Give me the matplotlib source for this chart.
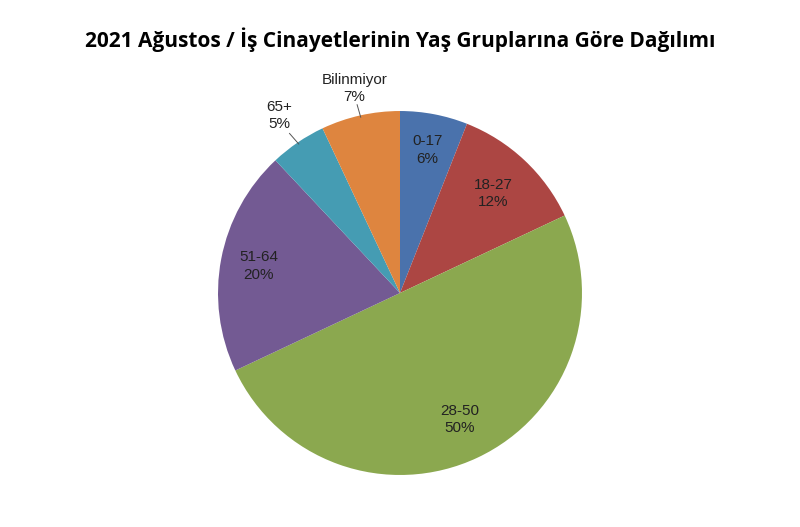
import matplotlib
matplotlib.use("Agg")
import matplotlib.pyplot as plt
import numpy as np

categories = ["0-17", "18-27", "28-50", "51-64", "65+", "Bilinmiyor"]
values = [6, 12, 50, 20, 5, 7]
colors = ["#4A72AC", "#AC4643", "#8BA84F", "#735A93", "#459CB3", "#DE853F"]
label_r = [0.80, 0.75, 0.77, 0.79, 1.18, 1.15]

fig = plt.figure(figsize=(8, 5.27), dpi=100)
ax = fig.add_axes([200/800, 34/527, 400/800, 400/527])
wedges, _ = ax.pie(values, colors=colors, startangle=90, counterclock=False,
                   wedgeprops=dict(linewidth=0))
ax.set_xlim(-1.099, 1.099); ax.set_ylim(-1.099, 1.099); ax.set_aspect('equal')
ax.axis('off')
total = sum(values)
for w, cat, v, r in zip(wedges, categories, values, label_r):
    ang = np.deg2rad((w.theta1 + w.theta2) / 2)
    x, y = r*np.cos(ang), r*np.sin(ang)
    ax.text(x, y, f"{cat}\n{round(100*v/total)}%", ha='center', va='center',
            fontsize=11, family='Liberation Sans', linespacing=1.3, color='#222222')
    if r > 1:
        ax.plot([0.99*np.cos(ang), 1.08*np.cos(ang)], [0.99*np.sin(ang), 1.06*np.sin(ang)],
                color='#555555', lw=0.7)
fig.text(0.5, 0.925, "2021 Ağustos / İş Cinayetlerinin Yaş Gruplarına Göre Dağılımı",
         ha='center', va='center', fontsize=15, fontweight='bold', family='Open Sans')
fig.savefig("out.png", dpi=100, facecolor='white')
